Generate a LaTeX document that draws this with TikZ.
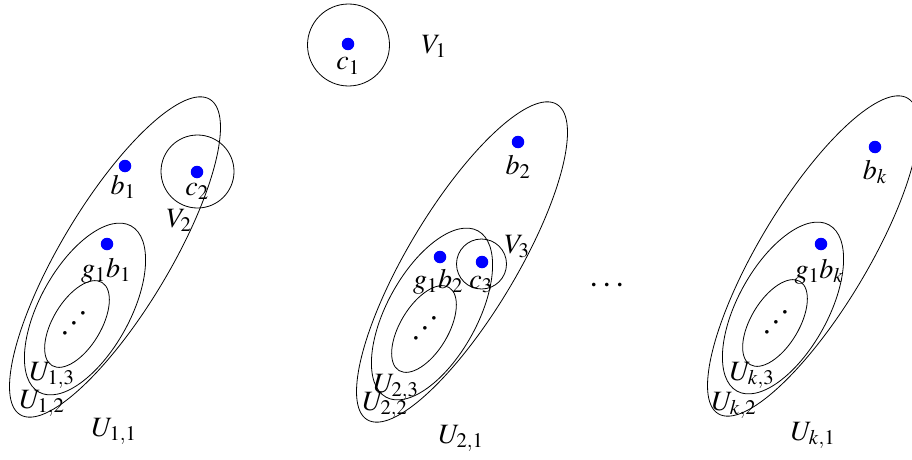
\documentclass[tikz,border=0pt]{standalone}
\usepackage{mathptmx}
\begin{document}
\begin{tikzpicture}[x=1pt, y=-1pt,
    pt/.style={circle, fill=blue, inner sep=0pt, minimum size=12.5pt},
    lbl/.style={font=\fontsize{28}{32}\selectfont, anchor=base, inner sep=0pt},
    dotslbl/.style={font=\fontsize{34}{38}\selectfont, inner sep=0pt},
    set/.style={draw=black, line width=0.8pt}
  ]
  \useasboundingbox (0,0) rectangle (912,460);
  % nested sets U_{i,1} > U_{i,2} > U_{i,3}
  \foreach \ox/\oy in {115/257, 462/262, 813/256}{
    \draw[set, rotate around={59:(\ox,\oy)}] (\ox,\oy) ellipse (184 and 54);
    \draw[set, rotate around={61:(\ox-30,\oy+52)}] (\ox-30,\oy+52) ellipse (95 and 45);
    \draw[set, rotate around={59:(\ox-38,\oy+67)}] (\ox-38,\oy+67) ellipse (48.5 and 24);
  }
  % points
  \node[pt] (c1) at (348,44) {};
  \node[pt] (b1) at (125,166) {};
  \node[pt] (c2) at (197,172) {};
  \node[pt] (g1b1) at (107,244) {};
  \node[pt] (b2) at (518,142) {};
  \node[pt] (g1b2) at (440,257) {};
  \node[pt] (c3) at (482,262) {};
  \node[pt] (bk) at (875,147) {};
  \node[pt] (g1bk) at (821,244) {};
  % balls V_j
  \draw[set] (348.5,45) circle (41);
  \draw[set] (197.5,171.5) circle (36.5);
  \draw[set] (481.5,264) circle (25);
  % labels
  \node[lbl] (c1lbl) at (348,70) {$c_1$};
  \node[lbl] (V1lbl) at (434,53) {$V_1$};
  \node[lbl] (b1lbl) at (123,194) {$b_1$};
  \node[lbl] (c2lbl) at (197,195) {$c_2$};
  \node[lbl] (V2lbl) at (179,227) {$V_2$};
  \node[lbl] (g1b1lbl) at (106,277) {$g_1b_1$};
  \node[lbl] (U13lbl) at (52,380) {$U_{1,3}$};
  \node[lbl] (U12lbl) at (42,408) {$U_{1,2}$};
  \node[lbl] (U11lbl) at (114,436) {$U_{1,1}$};
  \node[lbl] (b2lbl) at (518,174) {$b_2$};
  \node[lbl] (g1b2lbl) at (438,288) {$g_1b_2$};
  \node[lbl] (c3lbl) at (481,288) {$c_3$};
  \node[lbl] (V3lbl) at (517,253) {$V_3$};
  \node[lbl] (U23lbl) at (396,392) {$U_{2,3}$};
  \node[lbl] (U22lbl) at (385,410) {$U_{2,2}$};
  \node[lbl] (U21lbl) at (461,443) {$U_{2,1}$};
  \node[lbl] (bklbl) at (875,179) {$b_k$};
  \node[lbl] (g1bklbl) at (819,278) {$g_1b_k$};
  \node[lbl] (Uk3lbl) at (752,380) {$U_{k,3}$};
  \node[lbl] (Uk2lbl) at (734,410) {$U_{k,2}$};
  \node[lbl] (Uk1lbl) at (813,440) {$U_{k,1}$};
  % dots
  \node[dotslbl, rotate=48] (dd1) at (75,324) {$\cdots$};
  \node[dotslbl, rotate=48] (dd2) at (426,329) {$\cdots$};
  \node[dotslbl, rotate=48] (ddk) at (777,323) {$\cdots$};
  \node[dotslbl] (hdots) at (607,286) {$\cdots$};
\end{tikzpicture}
\end{document}
